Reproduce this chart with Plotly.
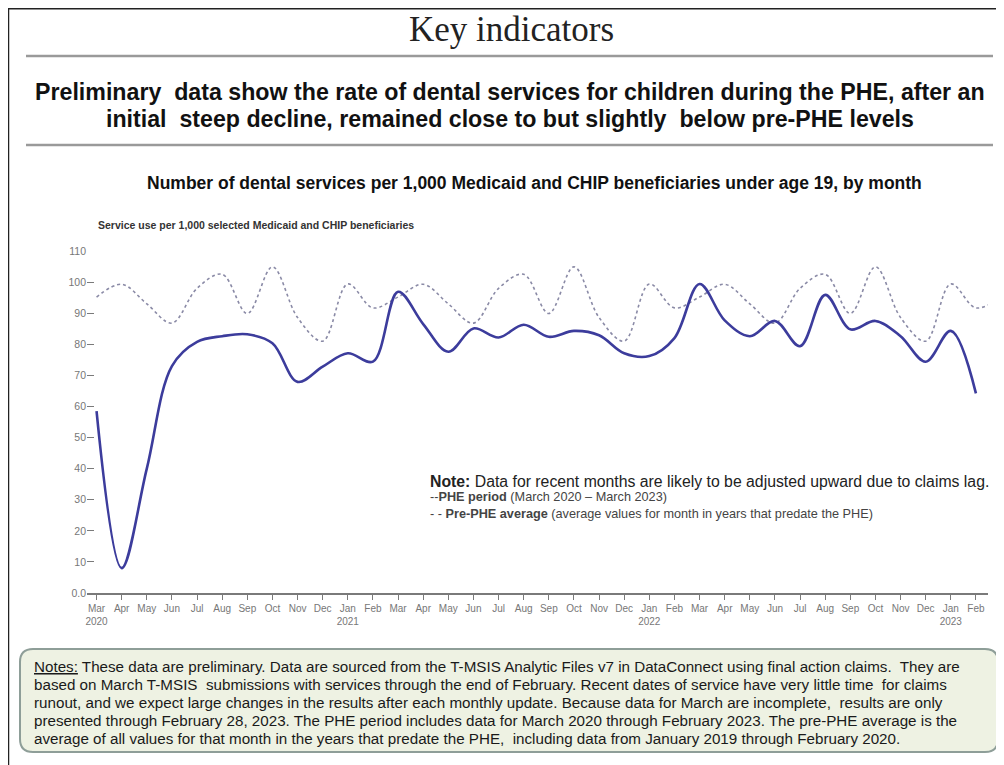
import plotly.graph_objects as go

# ---------------- data ----------------
month_keys = [
    "2020-03", "2020-04", "2020-05", "2020-06", "2020-07", "2020-08", "2020-09", "2020-10",
    "2020-11", "2020-12", "2021-01", "2021-02", "2021-03", "2021-04", "2021-05", "2021-06",
    "2021-07", "2021-08", "2021-09", "2021-10", "2021-11", "2021-12", "2022-01", "2022-02",
    "2022-03", "2022-04", "2022-05", "2022-06", "2022-07", "2022-08", "2022-09", "2022-10",
    "2022-11", "2022-12", "2023-01", "2023-02", "2023-03",
]
tick_labels = [
    "Mar<br>2020", "Apr", "May", "Jun", "Jul", "Aug", "Sep", "Oct", "Nov", "Dec", "Jan<br>2021", "Feb",
    "Mar", "Apr", "May", "Jun", "Jul", "Aug", "Sep", "Oct", "Nov", "Dec", "Jan<br>2022", "Feb",
    "Mar", "Apr", "May", "Jun", "Jul", "Aug", "Sep", "Oct", "Nov", "Dec", "Jan<br>2023", "Feb",
]
phe_period = [
    58.5, 8.0, 40.0, 73.0, 80.8, 82.6, 83.2, 80.3, 67.9, 72.8, 77.1, 74.4,
    96.9, 86.5, 77.6, 85.1, 82.2, 86.3, 82.4, 84.3, 82.9, 77.1, 76.2, 82.0,
    99.4, 87.7, 82.6, 87.5, 79.4, 95.9, 84.8, 87.5, 82.6, 74.4, 84.3, 64.2,
]
pre_phe_average = [
    95.2, 99.3, 93.0, 86.8, 98.0, 102.5, 89.9, 104.9, 88.6, 81.0, 99.4, 91.7,
    95.2, 99.3, 93.0, 86.8, 98.0, 102.5, 89.9, 104.9, 88.6, 81.0, 99.4, 91.7,
    95.2, 99.3, 93.0, 86.8, 98.0, 102.5, 89.9, 104.9, 88.6, 81.0, 99.4, 91.7,
    95.2,
]
y_ticks = [0, 10, 20, 30, 40, 50, 60, 70, 80, 90, 100, 110]
y_tick_labels = ["0.0", "10", "20", "30", "40", "50", "60", "70", "80", "90", "100", "110"]

# ---------------- geometry helpers (page pixel -> paper) ----------------
PAGE_W, PAGE_H = 1004, 765
OFF = 8                      # browser body margin
W, H = PAGE_W - OFF, PAGE_H - OFF
L, R, T, B = 87, 988, 251, 593   # plot area in page pixels


def px(x):
    return (x - L) / (R - L)


def py(y):
    return (B - y) / (B - T)


fig = go.Figure()
fig.add_trace(go.Scatter(
    x=month_keys[:len(pre_phe_average)], y=pre_phe_average, mode="lines",
    line=dict(color="#8a8aa6", width=1.6, dash="dot", shape="spline", smoothing=1.0),
    name="Pre-PHE average", hoverinfo="skip",
))
fig.add_trace(go.Scatter(
    x=month_keys[:len(phe_period)], y=phe_period, mode="lines",
    line=dict(color="#3c3c9c", width=2.6, shape="spline", smoothing=1.0),
    name="PHE period", hoverinfo="skip",
))

fig.update_layout(
    width=W, height=H,
    margin=dict(l=L - OFF, r=PAGE_W - R, t=T - OFF, b=PAGE_H - B, pad=0),
    paper_bgcolor="white", plot_bgcolor="white",
    showlegend=False,
    font=dict(family="Liberation Sans, Arial, sans-serif", color="#222"),
)
fig.update_xaxes(
    type="category", categoryorder="array", categoryarray=month_keys,
    range=[-0.38, 35.48],
    tickvals=month_keys[:len(tick_labels)], ticktext=tick_labels,
    showgrid=False, zeroline=False,
    showline=True, linecolor="#7a7a7a", linewidth=1.5,
    ticks="outside", ticklen=5, tickcolor="#7a7a7a", tickwidth=1,
    tickfont=dict(size=10, color="#777", family="Liberation Sans, Arial, sans-serif"),
    tickangle=0,
)
fig.update_yaxes(
    range=[0, 110], tickvals=y_ticks, ticktext=y_tick_labels,
    showgrid=False, zeroline=False, showline=False,
    ticks="inside", ticklen=7, tickcolor="#7a7a7a", tickwidth=1.3,
    tickfont=dict(size=10.5, color="#777", family="Liberation Sans, Arial, sans-serif"),
)

shapes = []
# outer frame
shapes.append(dict(type="rect", xref="paper", yref="paper",
                   x0=px(8.5), x1=px(1012), y0=py(8.8), y1=py(775),
                   line=dict(color="#222", width=1.5), fillcolor="rgba(0,0,0,0)", layer="below"))
# rules
for yy in (56, 145):
    shapes.append(dict(type="line", xref="paper", yref="paper",
                       x0=px(26), x1=px(993), y0=py(yy), y1=py(yy),
                       line=dict(color="#9a9a9a", width=2.5)))
# rounded notes box
x0b, x1b, y0b, y1b, rr = 20, 998, 649, 752, 13
path = (
    f"M {px(x0b + rr)} {py(y0b)} L {px(x1b - rr)} {py(y0b)} "
    f"Q {px(x1b)} {py(y0b)} {px(x1b)} {py(y0b + rr)} "
    f"L {px(x1b)} {py(y1b - rr)} Q {px(x1b)} {py(y1b)} {px(x1b - rr)} {py(y1b)} "
    f"L {px(x0b + rr)} {py(y1b)} Q {px(x0b)} {py(y1b)} {px(x0b)} {py(y1b - rr)} "
    f"L {px(x0b)} {py(y0b + rr)} Q {px(x0b)} {py(y0b)} {px(x0b + rr)} {py(y0b)} Z"
)
shapes.append(dict(type="path", xref="paper", yref="paper", path=path,
                   line=dict(color="#8e9e98", width=2), fillcolor="#eef2e3", layer="below"))
fig.update_layout(shapes=shapes)

ann = []


def text(x, y, s, size, family="Liberation Sans, Arial, sans-serif", color="#111",
         xanchor="center", yanchor="middle", align="center"):
    ann.append(dict(x=px(x), y=py(y), xref="paper", yref="paper", text=s, showarrow=False,
                    xanchor=xanchor, yanchor=yanchor, align=align,
                    font=dict(size=size, family=family, color=color)))


text(511, 29, "Key indicators", 35, family="Liberation Serif, Georgia, serif", color="#222")
text(510, 92, "<b>Preliminary  data show the rate of dental services for children during the PHE, after an</b>", 23.2)
text(510, 119, "<b>initial  steep decline, remained close to but slightly  below pre-PHE levels</b>", 23.2)
text(534, 183, "<b>Number of dental services per 1,000 Medicaid and CHIP beneficiaries under age 19, by month</b>", 17.5)
text(96, 225, "<b>Service use per 1,000 selected Medicaid and CHIP beneficiaries</b>", 10.5,
     color="#333", xanchor="left")

text(428, 481, "<b>Note:</b> Data for recent months are likely to be adjusted upward due to claims lag.", 15.8,
     color="#222", xanchor="left")
text(428, 497, "--<b>PHE period</b> (March 2020 – March 2023)", 12.7, color="#444", xanchor="left")
text(428, 514, "- - <b>Pre-PHE average</b> (average values for month in years that predate the PHE)", 12.7,
     color="#444", xanchor="left")

notes_lines = [
    "<u>Notes:</u> These data are preliminary. Data are sourced from the T-MSIS Analytic Files v7 in DataConnect using final action claims.  They are",
    "based on March T-MSIS  submissions with services through the end of February. Recent dates of service have very little time  for claims",
    "runout, and we expect large changes in the results after each monthly update. Because data for March are incomplete,  results are only",
    "presented through February 28, 2023. The PHE period includes data for March 2020 through February 2023. The pre-PHE average is the",
    "average of all values for that month in the years that predate the PHE,  including data from January 2019 through February 2020.",
]
for i, line in enumerate(notes_lines):
    text(32, 666 + i * 18, line, 15.2, family="Liberation Sans, Arial, sans-serif",
         color="#1a1a1a", xanchor="left")

fig.update_layout(annotations=ann)
fig.write_html("out.html")
